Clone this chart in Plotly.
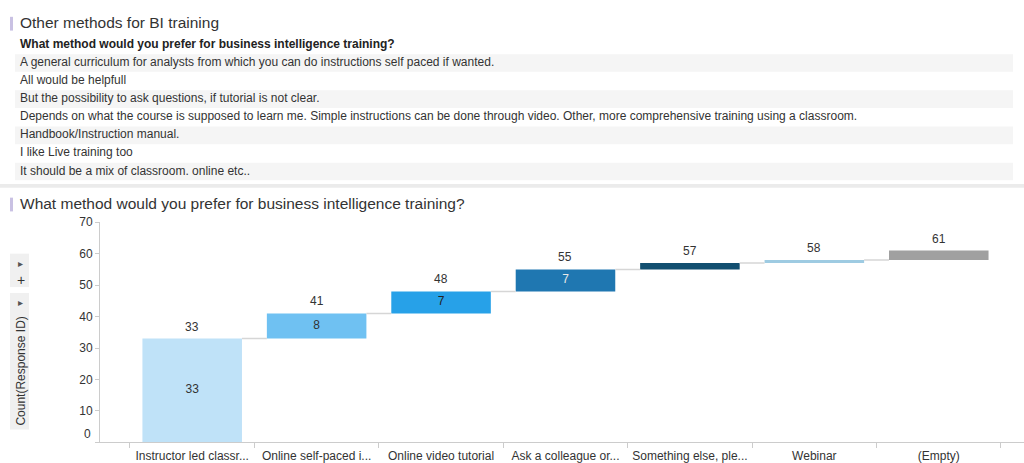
import plotly.graph_objects as go

# ---------------- data ----------------
categories = ["Instructor led classr...", "Online self-paced i...", "Online video tutorial",
              "Ask a colleague or...", "Something else, ple...", "Webinar", "(Empty)"]
deltas = [33, 8, 7, 7, 2, 1, 3]
bar_colors = ["#bfe2f8", "#6fc1f2", "#27a1e8", "#1f77b1", "#124f70", "#9ecbe2", "#a0a0a0"]
inside_text_colors = ["#333333", "#333333", "#222222", "#e8e8e8", "#ffffff", "#333333", "#333333"]

table_title = "Other methods for BI training"
table_header = "What method would you prefer for business intelligence training?"
table_rows = [
    "A general curriculum for analysts from which you can do instructions self paced if wanted.",
    "All would be helpfull",
    "But the possibility to ask questions, if tutorial is not clear.",
    "Depends on what the course is supposed to learn me. Simple instructions can be done through video. Other, more comprehensive training using a classroom.",
    "Handbook/Instruction manual.",
    "I like Live training too",
    "It should be a mix of classroom. online etc..",
]
chart_title = "What method would you prefer for business intelligence training?"
y_title = "Count(Response ID)"
y_ticks = [0, 10, 20, 30, 40, 50, 60, 70]

# ---------------- derived ----------------
W, H = 1024, 463
FONT = "Liberation Sans, Arial, sans-serif"
TXT = "#333333"
FS = 12


def px(x):
    return x / W


def py(y):
    return 1 - y / H


bases, totals = [], []
run = 0
for d in deltas:
    bases.append(run)
    run += d
    totals.append(run)

fig = go.Figure()

fig.add_trace(go.Bar(
    x=categories, y=deltas, base=bases, width=0.8,
    marker=dict(color=bar_colors, line=dict(width=0)),
    hoverinfo="skip", showlegend=False,
))

# delta labels inside (only where bar is tall enough)
ins_x, ins_y, ins_t, ins_c = [], [], [], []
for c, b, d, col in zip(categories, bases, deltas, inside_text_colors):
    if d >= 5:
        ins_x.append(c)
        ins_y.append(b + d / 2)
        ins_t.append(str(d))
        ins_c.append(col)
fig.add_trace(go.Scatter(
    x=ins_x, y=ins_y, mode="text", text=ins_t, textposition="middle center",
    textfont=dict(family=FONT, size=FS, color=ins_c),
    hoverinfo="skip", showlegend=False,
))

# connectors (on overlaid linear axis)
cx, cy = [], []
for i in range(len(deltas) - 1):
    cx += [i + 0.4, i + 1 - 0.4, None]
    cy += [totals[i], totals[i], None]
fig.add_trace(go.Scatter(
    x=cx, y=cy, xaxis="x2", mode="lines", line=dict(color="#d6d6d6", width=1.5),
    hoverinfo="skip", showlegend=False,
))

xr = [-0.741, 6.685]
fig.update_layout(
    width=W, height=H, margin=dict(l=0, r=0, t=0, b=0),
    paper_bgcolor="white", plot_bgcolor="white",
    font=dict(family=FONT, size=FS, color=TXT),
    xaxis=dict(
        domain=[px(100), 1], range=xr, type="category", tickson="boundaries",
        ticks="outside", ticklen=5, tickcolor="#cccccc", showline=True, linecolor="#cccccc",
        linewidth=1, showgrid=False, tickfont=dict(family=FONT, size=FS, color=TXT),
        ticklabelstandoff=2, fixedrange=True,
    ),
    xaxis2=dict(domain=[px(100), 1], range=xr, overlaying="x", visible=False, fixedrange=True),
    yaxis=dict(
        domain=[py(443), py(219)], range=[0, 70], tickvals=y_ticks,
        ticktext=["" if v == 0 else str(v) for v in y_ticks],
        ticks="outside", ticklen=4, tickcolor="#cccccc", showline=True, linecolor="#cccccc",
        linewidth=1, showgrid=False, zeroline=False,
        tickfont=dict(family=FONT, size=FS, color=TXT), fixedrange=True,
    ),
    bargap=0.2,
)

shapes = []
annotations = []

# totals above bars
for c, t in zip(categories, totals):
    annotations.append(dict(text=str(t), x=c, y=t, xref="x", yref="y", xanchor="center",
                            yanchor="middle", yshift=12, showarrow=False,
                            font=dict(family=FONT, size=FS, color=TXT)))

# title markers
for ty in (17, 201):
    shapes.append(dict(type="rect", xref="paper", yref="paper", x0=px(10), x1=px(13),
                       y0=py(ty + 7), y1=py(ty - 7), fillcolor="#c9c1e3", line=dict(width=0)))

annotations.append(dict(text=table_title, x=px(18), y=py(16), xref="paper", yref="paper",
                        xanchor="left", yanchor="middle", showarrow=False,
                        font=dict(family=FONT, size=15.5, color=TXT)))
annotations.append(dict(text=chart_title, x=px(18), y=py(200), xref="paper", yref="paper",
                        xanchor="left", yanchor="middle", showarrow=False,
                        font=dict(family=FONT, size=15.5, color=TXT)))

# table
annotations.append(dict(text="<b>" + table_header + "</b>", x=px(18), y=py(38), xref="paper",
                        yref="paper", xanchor="left", yanchor="middle", showarrow=False,
                        font=dict(family=FONT, size=FS, color="#222222")))
row_pitch = 18.4
for i, r in enumerate(table_rows):
    cyy = 57 + i * row_pitch
    if i % 2 == 0:
        shapes.append(dict(type="rect", xref="paper", yref="paper", x0=px(15), x1=px(1013),
                           y0=py(cyy + 9), y1=py(cyy - 9), fillcolor="#f5f5f5",
                           line=dict(width=0), layer="below"))
    annotations.append(dict(text=r, x=px(18), y=py(cyy - 1), xref="paper", yref="paper",
                            xanchor="left", yanchor="middle", showarrow=False,
                            font=dict(family=FONT, size=FS, color=TXT)))

# separator
shapes.append(dict(type="rect", xref="paper", yref="paper", x0=0, x1=1,
                   y0=py(184), y1=py(180), fillcolor="#ebebeb", line=dict(width=0)))

# y-axis control boxes
shapes.append(dict(type="rect", xref="paper", yref="paper", x0=px(10), x1=px(29),
                   y0=py(285), y1=py(251), fillcolor="#f0f0f0", line=dict(width=0)))
shapes.append(dict(type="rect", xref="paper", yref="paper", x0=px(10), x1=px(29),
                   y0=py(430), y1=py(291), fillcolor="#f0f0f0", line=dict(width=0)))
for ty in (261, 301):
    annotations.append(dict(text="\u25b8", x=px(20), y=py(ty), xref="paper", yref="paper",
                            xanchor="center", yanchor="middle", showarrow=False,
                            font=dict(family="DejaVu Sans", size=10, color="#555555")))
annotations.append(dict(text="+", x=px(21), y=py(278), xref="paper", yref="paper",
                        xanchor="center", yanchor="middle", showarrow=False,
                        font=dict(family=FONT, size=14, color="#333333")))
annotations.append(dict(text=y_title, x=px(21), y=py(371), xref="paper", yref="paper",
                        xanchor="center", yanchor="middle", textangle=-90, showarrow=False,
                        font=dict(family=FONT, size=FS, color=TXT)))

# zero label (drawn slightly above baseline as in reference)
annotations.append(dict(text=str(y_ticks[0]), x=px(93), y=py(434), xref="paper", yref="paper",
                        xanchor="right", yanchor="middle", showarrow=False,
                        font=dict(family=FONT, size=FS, color=TXT)))

fig.update_layout(shapes=shapes, annotations=annotations)
fig.write_html(
    "out.html",
    config={"displayModeBar": False},
    post_script="document.body.style.margin='0';document.body.style.padding='0';"
                "document.body.style.overflow='hidden';",
)
